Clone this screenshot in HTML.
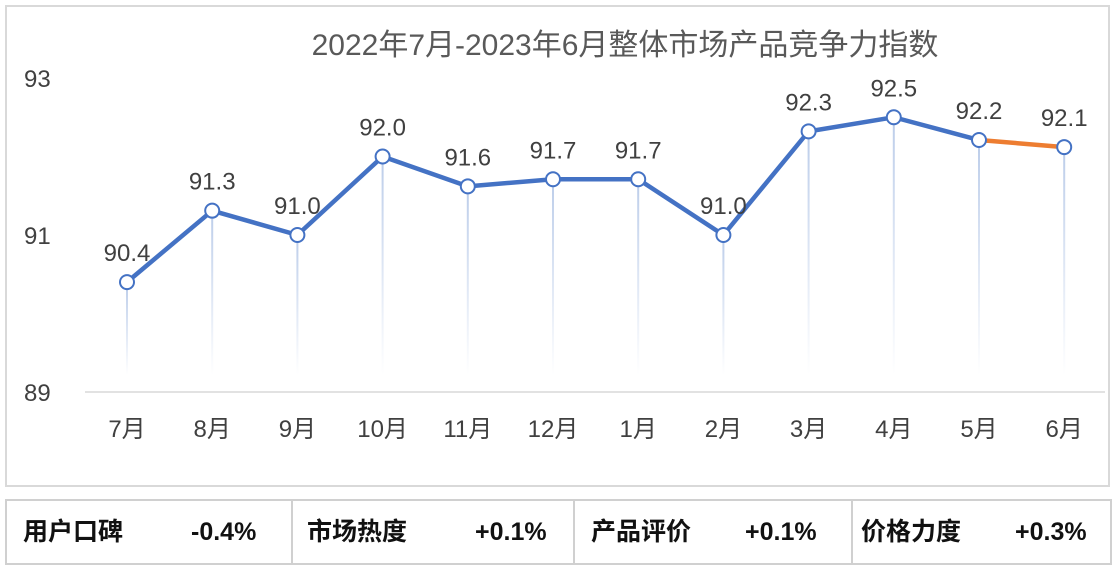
<!DOCTYPE html>
<html><head><meta charset="utf-8"><style>
body{margin:0;width:1119px;height:569px;background:#fff;overflow:hidden;font-family:"Liberation Sans","Noto Sans CJK SC",sans-serif}
#frame{position:absolute;left:5px;top:5px;width:1105px;height:482px;border:2px solid #d9d9d9;box-sizing:border-box}
#tbl{position:absolute;left:5px;top:499px;width:1107px;height:66px;border:2px solid #d0d0d0;box-sizing:border-box;display:flex}
.cell{flex:none;height:100%;border-right:2px solid #d0d0d0;box-sizing:border-box;position:relative;font-weight:bold;font-size:25px;color:#111}
.cell:last-child{border-right:none}
.cell span{position:absolute;top:0;height:62px;line-height:62px;display:block}
</style></head><body>
<div id="frame"></div>
<svg id="chart" width="1119" height="490" style="position:absolute;left:0;top:0">
<defs><linearGradient id="drop" x1="0" y1="0" x2="0" y2="1"><stop offset="0" stop-color="#b4c7e7" stop-opacity="0.9"/><stop offset="1" stop-color="#b4c7e7" stop-opacity="0"/></linearGradient></defs>
<text x="625" y="55" text-anchor="middle" font-size="30" fill="#595959" font-family="Liberation Sans,Noto Sans CJK SC,sans-serif">2022年7月-2023年6月整体市场产品竞争力指数</text>
</svg>
<div id="tbl">
<div class="cell" style="width:286px"><span style="left:16px">用户口碑</span><span style="left:184px">-0.4%</span></div>
<div class="cell" style="width:282px"><span style="left:14px">市场热度</span><span style="left:182px">+0.1%</span></div>
<div class="cell" style="width:278px"><span style="left:16px">产品评价</span><span style="left:170px">+0.1%</span></div>
<div class="cell" style="width:257px"><span style="left:8px">价格力度</span><span style="left:162px">+0.3%</span></div>
</div>
<script>
const categories=["7月","8月","9月","10月","11月","12月","1月","2月","3月","4月","5月","6月"];
const values=[90.40,91.31,91.0,92.0,91.62,91.71,91.71,91.0,92.32,92.5,92.21,92.12];
const labels=["90.4","91.3","91.0","92.0","91.6","91.7","91.7","91.0","92.3","92.5","92.2","92.1"];
const yTicks=[89,91,93];
const NS="http://www.w3.org/2000/svg";
const svg=document.getElementById('chart');
const x=i=>127+i*85.2;
const y=v=>392-(v-89)*78.5;
function mk(t,a){const e=document.createElementNS(NS,t);for(const k in a)e.setAttribute(k,a[k]);svg.appendChild(e);return e;}
const base=mk('line',{x1:85,x2:1105,y1:y(89),y2:y(89),stroke:'#d9d9d9','stroke-width':1.5});


yTicks.forEach(t=>{const e=mk('text',{x:24,y:y(t)+9,'font-size':24,fill:'#404040'});e.textContent=t;

});
categories.forEach((c,i)=>{const e=mk('text',{x:x(i),y:437,'text-anchor':'middle','font-size':24,fill:'#404040'});e.textContent=c;

});
values.forEach((v,i)=>{const r=mk('rect',{x:x(i)-1,y:y(v),width:2,height:375-y(v),fill:'url(#drop)'});

});
let d='';for(let i=0;i<values.length-1;i++)d+=(i?'L':'M')+x(i)+','+y(values[i]);
const p=mk('path',{d:d,fill:'none',stroke:'#4472c4','stroke-width':4.5,'stroke-linejoin':'round'});


const n=values.length;
const o=mk('line',{x1:x(n-2),y1:y(values[n-2]),x2:x(n-1),y2:y(values[n-1]),stroke:'#ed7d31','stroke-width':4.5});


values.forEach((v,i)=>{const c=mk('circle',{cx:x(i),cy:y(v),r:7,fill:'#fff',stroke:'#4472c4','stroke-width':2});


const t=mk('text',{x:x(i),y:y(v)-21,'text-anchor':'middle','font-size':24,fill:'#404040'});t.textContent=labels[i];

});
</script>
</body></html>
